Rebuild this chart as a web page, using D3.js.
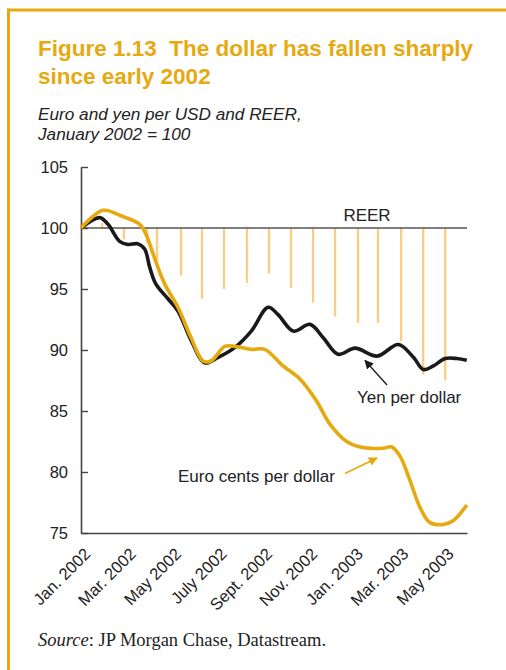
<!DOCTYPE html>
<html>
<head>
<meta charset="utf-8">
<script src="https://cdn.jsdelivr.net/npm/d3@7"></script>
<style>
  body { margin: 0; background: #fff; }
  svg { display: block; font-family: Arial, "Liberation Sans", sans-serif; }
</style>
</head>
<body>
<svg width="506" height="670"></svg>
<script>
// month offsets from Jan 2002 (0) to Jun 2003 (17)
var tickMonths = [0, 2, 4, 6, 8, 10, 12, 14, 16];
var tickLabels = ["Jan. 2002", "Mar. 2002", "May 2002", "July 2002", "Sept. 2002",
                  "Nov. 2002", "Jan. 2003", "Mar. 2003", "May 2003"];
var yTicks = [75, 80, 85, 90, 95, 100, 105];

// euro cents per dollar
var euroMonth = [0, 0.97, 1.76, 2.59, 2.86, 3.17, 3.69, 4.27, 4.85, 5.37, 5.73, 6.33, 6.77,
                 7.49, 8.09, 8.9, 9.65, 10.38, 10.97, 11.7, 12.42, 13.3, 13.69, 14.05, 14.49,
                 14.93, 15.37, 15.95, 16.39, 16.99];
var euroValue = [100, 101.45, 101.0, 100.3, 99.5, 97.9, 95.4, 93.5, 91.0, 89.1, 89.1, 90.3, 90.3,
                 90.05, 90.05, 88.7, 87.6, 85.8, 83.9, 82.5, 82.0, 81.95, 82.05, 81.3, 79.3,
                 77.1, 75.85, 75.7, 76.0, 77.3];

// yen per dollar
var yenMonth = [0, 0.82, 1.19, 1.7, 2.07, 2.51, 2.81, 3.03, 3.3, 3.83, 4.27, 4.86, 5.45, 6.04,
                6.77, 7.5, 8.24, 8.68, 9.35, 10.09, 10.67, 11.32, 12.07, 13.04, 13.98, 14.64,
                15.08, 15.52, 16.04, 16.55, 16.99];
var yenValue = [100, 100.85, 100.3, 98.9, 98.65, 98.7, 98.25, 96.75, 95.4, 94.2, 93.2, 90.75,
                88.95, 89.4, 90.2, 91.55, 93.5, 92.9, 91.55, 92.1, 91.0, 89.65, 90.15, 89.5,
                90.45, 89.4, 88.4, 88.7, 89.3, 89.3, 89.15];

// REER
var reerMonth = [0.93, 1.89, 2.91, 3.35, 4.41, 5.33, 6.3, 7.31, 8.28, 9.25, 10.22, 11.19,
                 12.2, 13.08, 14.1, 15.07, 16.04];
var reerValue = [100.4, 99.05, 98.8, 97.3, 96.1, 94.2, 95.0, 95.5, 96.25, 95.1, 93.9, 92.75,
                 92.2, 92.2, 90.7, 88.0, 87.5];

var gold = "#e6a90f";
var svg = d3.select("svg");

// frame
svg.append("line").attr("x1", 7).attr("x2", 506).attr("y1", 10).attr("y2", 10)
  .attr("stroke", gold).attr("stroke-width", 3);
svg.append("line").attr("x1", 8.5).attr("x2", 8.5).attr("y1", 8.5).attr("y2", 670)
  .attr("stroke", gold).attr("stroke-width", 3);

// titles
var title = svg.append("text").attr("x", 38).attr("y", 56)
  .attr("fill", gold).attr("font-size", "22.5px").attr("font-weight", "bold");
title.append("tspan").text("Figure 1.13\u00a0\u00a0The dollar has fallen sharply");
title.append("tspan").attr("x", 38).attr("dy", 28).text("since early 2002");

var sub = svg.append("text").attr("x", 38).attr("y", 120)
  .attr("fill", "#222").attr("font-size", "17.2px").attr("font-style", "italic");
sub.append("tspan").text("Euro and yen per USD and REER,");
sub.append("tspan").attr("x", 38).attr("dy", 20).text("January 2002 = 100");

var x = d3.scaleLinear().domain([0, 17]).range([81, 467]);
var y = d3.scaleLinear().domain([75, 105]).range([533, 167]);

// REER bars
var reer = reerMonth.map(function(m, i) { return {m: m, v: reerValue[i]}; });
svg.append("g").selectAll("line").data(reer).enter().append("line")
  .attr("x1", function(d) { return x(d.m); })
  .attr("x2", function(d) { return x(d.m); })
  .attr("y1", y(100))
  .attr("y2", function(d) { return y(d.v); })
  .attr("stroke", "#f6cf85").attr("stroke-width", 2.3);

// base line at 100
svg.append("line").attr("x1", x(0)).attr("x2", x(17)).attr("y1", y(100)).attr("y2", y(100))
  .attr("stroke", "#555").attr("stroke-width", 1.6);
svg.append("text").attr("x", 367).attr("y", 221).attr("text-anchor", "middle")
  .attr("font-size", "17px").attr("fill", "#222").text("REER");

// y axis
var yAxis = svg.append("g").attr("transform", "translate(" + x(0) + ",0)")
  .call(d3.axisLeft(y).tickValues(yTicks).tickSizeInner(-7).tickSizeOuter(0).tickPadding(13));
yAxis.select(".domain").attr("stroke", "#444").attr("stroke-width", 1.6);
yAxis.selectAll(".tick line").attr("stroke", "#444").attr("stroke-width", 1.4);
yAxis.selectAll(".tick text").attr("font-size", "16.5px").attr("fill", "#222")
  .attr("font-family", "Arial, 'Liberation Sans', sans-serif");

// x axis
var xAxis = svg.append("g").attr("transform", "translate(0," + y(75) + ")")
  .call(d3.axisBottom(x).tickValues(tickMonths).tickSize(0)
    .tickFormat(function(d, i) { return tickLabels[i]; }));
xAxis.select(".domain").attr("stroke", "#444").attr("stroke-width", 1.6);
xAxis.selectAll(".tick text")
  .attr("font-size", "16.5px").attr("fill", "#222")
  .attr("font-family", "Arial, 'Liberation Sans', sans-serif")
  .attr("text-anchor", "end")
  .attr("dy", null).attr("y", 0)
  .attr("transform", "translate(10,22) rotate(-45)");

// lines
var line = d3.line()
  .x(function(d) { return x(d.m); })
  .y(function(d) { return y(d.v); })
  .curve(d3.curveCatmullRom.alpha(0.5));

var yen = yenMonth.map(function(m, i) { return {m: m, v: yenValue[i]}; });
var euro = euroMonth.map(function(m, i) { return {m: m, v: euroValue[i]}; });

svg.append("path").datum(yen).attr("d", line)
  .attr("fill", "none").attr("stroke", "#1c1a19").attr("stroke-width", 3.6)
  .attr("stroke-linejoin", "round");
svg.append("path").datum(euro).attr("d", line)
  .attr("fill", "none").attr("stroke", gold).attr("stroke-width", 3.6)
  .attr("stroke-linejoin", "round");

// annotations
var defs = svg.append("defs");
function marker(id, color) {
  defs.append("marker").attr("id", id).attr("viewBox", "0 0 10 10")
    .attr("refX", 9).attr("refY", 5).attr("markerWidth", 9).attr("markerHeight", 9)
    .attr("markerUnits", "userSpaceOnUse").attr("orient", "auto")
    .append("path").attr("d", "M0,0 L10,5 L0,10 Z").attr("fill", color);
}
marker("arrowBlack", "#1c1a19");
marker("arrowGold", gold);

svg.append("line").attr("x1", 387).attr("y1", 385).attr("x2", 365).attr("y2", 360.5)
  .attr("stroke", "#1c1a19").attr("stroke-width", 1.3).attr("marker-end", "url(#arrowBlack)");
svg.append("text").attr("x", 357).attr("y", 403).attr("font-size", "17px").attr("fill", "#222")
  .text("Yen per dollar");

svg.append("line").attr("x1", 345).attr("y1", 473.5).attr("x2", 377).attr("y2", 458)
  .attr("stroke", gold).attr("stroke-width", 1.6).attr("marker-end", "url(#arrowGold)");
svg.append("text").attr("x", 178).attr("y", 482).attr("font-size", "17px").attr("fill", "#222")
  .text("Euro cents per dollar");

// source
var src = svg.append("text").attr("x", 38).attr("y", 646)
  .attr("font-family", "'Liberation Serif', 'Times New Roman', serif")
  .attr("font-size", "18.5px").attr("fill", "#222");
src.append("tspan").attr("font-style", "italic").text("Source");
src.append("tspan").text(": JP Morgan Chase, Datastream.");
</script>
</body>
</html>
